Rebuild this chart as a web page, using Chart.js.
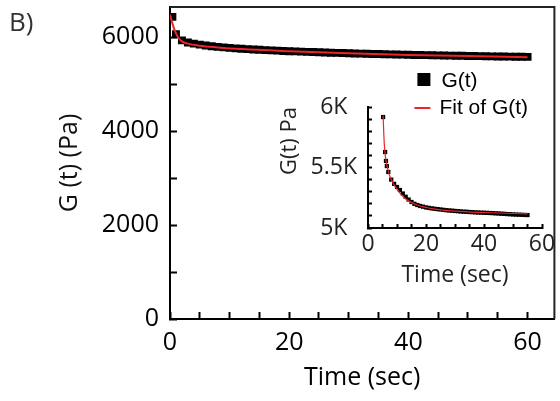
<!DOCTYPE html>
<html>
<head>
<meta charset="utf-8">
<script src="https://cdn.jsdelivr.net/npm/chart.js@4"></script>
<style>
  html, body { margin: 0; padding: 0; background: #fff; }
  #wrap { position: relative; width: 560px; height: 401px; }
  #mainChart { position: absolute; left: 0; top: 0; }
  #insetChart { position: absolute; left: 270px; top: 90px; }
  #panel { position: absolute; left: 9px; top: 8px; font: 26px "Open Sans"; line-height: 1; color: #333; }
</style>
</head>
<body>
<div id="wrap">
  <canvas id="mainChart" width="560" height="401"></canvas>
  <canvas id="insetChart" width="290" height="200"></canvas>
  <div id="panel">B)</div>
</div>
<script>
// main panel: relaxation modulus G(t) vs time
const mainTimes = [0.4, 1, 2, 3, 4, 5, 6, 7, 8, 9, 10, 11, 12, 13, 14, 15, 16, 17, 18, 19, 20,
  21, 22, 23, 24, 25, 26, 27, 28, 29, 30, 31, 32, 33, 34, 35, 36, 37, 38, 39, 40,
  41, 42, 43, 44, 45, 46, 47, 48, 49, 50, 51, 52, 53, 54, 55, 56, 57, 58, 59, 60];
const mainG = [6430, 6060, 5930, 5885, 5860, 5840, 5822, 5806, 5792, 5780, 5770, 5760, 5752, 5744, 5737, 5730, 5723, 5717, 5711, 5705, 5700,
  5695, 5690, 5685, 5681, 5677, 5672, 5668, 5664, 5660, 5656, 5652, 5648, 5645, 5641, 5638, 5635, 5632, 5629, 5626, 5623,
  5620, 5618, 5615, 5613, 5610, 5608, 5605, 5603, 5601, 5598, 5596, 5594, 5592, 5590, 5588, 5586, 5584, 5582, 5580, 5578];
const mainFitTimes = [0, 0.5, 1, 1.5, 2, 3, 5, 8, 12, 20, 30, 40, 50, 60];
const mainFitG = [6480, 6250, 6080, 5970, 5910, 5860, 5815, 5780, 5745, 5700, 5655, 5620, 5595, 5572];

// inset: zoomed view
const insetTimes = [5.2, 5.9, 6.2, 6.5, 7, 8, 9, 10, 11, 12, 13, 14, 15, 16, 17, 18, 19, 20,
  21, 22, 23, 24, 25, 26, 27, 28, 29, 30, 31, 32, 33, 34, 35, 36, 37, 38, 39, 40,
  41, 42, 43, 44, 45, 46, 47, 48, 49, 50, 51, 52, 53, 54, 55];
const insetG = [5917, 5628, 5554, 5512, 5463, 5400, 5365, 5339, 5314, 5285, 5258, 5235, 5215, 5200, 5190, 5182, 5176, 5170,
  5166, 5162, 5159, 5156, 5153, 5150, 5147, 5145, 5143, 5141, 5139, 5137, 5135, 5134, 5132, 5131, 5129, 5128, 5127, 5126,
  5125, 5124, 5123, 5121, 5120, 5118, 5117, 5115, 5114, 5112, 5111, 5110, 5109, 5108, 5107];
const insetFitTimes = [5.2, 5.6, 6, 7, 8, 10, 13, 17, 22, 30, 40, 50, 55];
const insetFitG = [5930, 5700, 5590, 5470, 5400, 5320, 5240, 5190, 5160, 5140, 5128, 5120, 5117];

const seriesLabels = ["Fit of G(t)", "G(t)"];
// tick marks and which of them carry a label
const xTickMarks = [0, 5, 10, 15, 20, 25, 30, 35, 40, 45, 50, 55, 60];
const xTickLabels = [0, 20, 40, 60];
const yTickMarks = [0, 1000, 2000, 3000, 4000, 5000, 6000];
const yTickLabels = [0, 2000, 4000, 6000];
const insetYTickMarks = [5000, 5100, 5200, 5300, 5400, 5500, 5600, 5700, 5800, 5900, 6000];
const insetYLabels = { 5000: "5K", 5500: "5.5K", 6000: "6K" };

const toPoints = (xs, ys) => xs.map((x, i) => ({ x: x, y: ys[i] }));
const setTicks = (list) => (s) => { s.ticks = list.map((v) => ({ value: v })); };
const noPad = (s) => { s.paddingTop = 0; s.paddingBottom = 0; s.paddingLeft = 0; s.paddingRight = 0; };
const RED = "#e8262b";

// top and right frame lines
const framePlugin = {
  id: "frame",
  afterDraw(chart) {
    const { ctx, chartArea: a } = chart;
    ctx.save();
    ctx.strokeStyle = "#222";
    ctx.lineWidth = 2;
    ctx.beginPath();
    ctx.moveTo(a.left, a.top);
    ctx.lineTo(a.right, a.top);
    ctx.lineTo(a.right, a.bottom);
    ctx.stroke();
    ctx.restore();
  },
};

// legend in the upper right corner of the plot
const legendPlugin = {
  id: "cornerLegend",
  afterDraw(chart) {
    const { ctx, chartArea: a } = chart;
    const ds = chart.data.datasets;
    ctx.save();
    ctx.font = '21px "Liberation Sans", Arial';
    ctx.textBaseline = "middle";
    ctx.fillStyle = "#000";
    ctx.fillRect(a.right - 137, a.top + 66, 13, 13);
    ctx.fillText(ds[1].label, a.right - 113, a.top + 74);
    ctx.strokeStyle = RED;
    ctx.lineWidth = 2;
    ctx.beginPath();
    ctx.moveTo(a.right - 140, a.top + 101);
    ctx.lineTo(a.right - 124, a.top + 101);
    ctx.stroke();
    ctx.fillStyle = "#000";
    ctx.fillText(ds[0].label, a.right - 115, a.top + 101);
    ctx.restore();
  },
};

new Chart(document.getElementById("mainChart"), {
  type: "scatter",
  data: {
    datasets: [
      {
        label: seriesLabels[0],
        data: toPoints(mainFitTimes, mainFitG),
        showLine: true,
        borderColor: RED,
        borderWidth: 2,
        pointRadius: 0,
        cubicInterpolationMode: "monotone",
      },
      {
        label: seriesLabels[1],
        data: toPoints(mainTimes, mainG),
        pointStyle: "rect",
        pointRadius: 5.6,
        backgroundColor: "#000",
        borderColor: "#000",
        borderWidth: 0,
      },
    ],
  },
  options: {
    responsive: false,
    animation: false,
    layout: { padding: { top: 7, right: 3, left: 0, bottom: 0 } },
    plugins: { legend: { display: false }, tooltip: { enabled: false } },
    scales: {
      x: {
        type: "linear",
        min: 0,
        max: 64.5,
        afterBuildTicks: setTicks(xTickMarks),
        afterFit: (s) => { s.height = 82; noPad(s); },
        border: { display: true, width: 2, color: "#000" },
        grid: { drawOnChartArea: false, drawTicks: true, tickLength: -7, tickWidth: 2, tickColor: "#000" },
        ticks: {
          autoSkip: false,
          maxRotation: 0,
          padding: 16,
          color: "#000",
          font: { family: "Open Sans", size: 25 },
          callback: (v) => (xTickLabels.includes(v) ? String(v) : ""),
        },
        title: {
          display: true,
          text: "Time (sec)",
          color: "#000",
          font: { family: "Open Sans", size: 25 },
          padding: { top: 0, bottom: 8 },
        },
      },
      y: {
        min: 0,
        max: 6640,
        afterBuildTicks: setTicks(yTickMarks),
        afterFit: (s) => { s.width = 170; noPad(s); },
        border: { display: true, width: 2, color: "#000" },
        grid: { drawOnChartArea: false, drawTicks: true, tickLength: -7, tickWidth: 2, tickColor: "#000" },
        ticks: {
          autoSkip: false,
          padding: 18,
          color: "#000",
          font: { family: "Open Sans", size: 25 },
          callback: (v) => (yTickLabels.includes(v) ? String(v) : ""),
        },
        title: {
          display: true,
          text: "G (t) (Pa)",
          color: "#111",
          font: { family: "Open Sans", size: 25 },
          padding: { top: 55, bottom: 0 },
        },
      },
    },
  },
  plugins: [framePlugin, legendPlugin],
});

new Chart(document.getElementById("insetChart"), {
  type: "scatter",
  data: {
    datasets: [
      {
        label: seriesLabels[0],
        data: toPoints(insetFitTimes, insetFitG),
        showLine: true,
        borderColor: RED,
        borderWidth: 1.2,
        pointRadius: 0,
        cubicInterpolationMode: "monotone",
      },
      {
        label: seriesLabels[1],
        data: toPoints(insetTimes, insetG),
        pointStyle: "rect",
        pointRadius: 3,
        backgroundColor: "#000",
        borderColor: "#000",
        borderWidth: 0,
      },
    ],
  },
  options: {
    responsive: false,
    animation: false,
    layout: { padding: { top: 17, right: 18, left: 0, bottom: 0 } },
    plugins: { legend: { display: false }, tooltip: { enabled: false } },
    scales: {
      x: {
        type: "linear",
        min: 0,
        max: 60,
        afterBuildTicks: setTicks(xTickMarks),
        afterFit: (s) => { s.height = 62; noPad(s); },
        border: { display: true, width: 2, color: "#000" },
        grid: { drawOnChartArea: false, drawTicks: true, tickLength: -4, tickWidth: 2, tickColor: "#000" },
        ticks: {
          autoSkip: false,
          maxRotation: 0,
          padding: 7,
          color: "#222",
          font: { family: "Open Sans", size: 23 },
          callback: (v) => (xTickLabels.includes(v) ? String(v) : ""),
        },
        title: {
          display: true,
          text: "Time (sec)",
          color: "#222",
          font: { family: "Open Sans", size: 23 },
          padding: { top: 0, bottom: 1 },
        },
      },
      y: {
        min: 5000,
        max: 6000,
        afterBuildTicks: setTicks(insetYTickMarks),
        afterFit: (s) => { s.width = 98; noPad(s); },
        border: { display: true, width: 2, color: "#000" },
        grid: { drawOnChartArea: false, drawTicks: true, tickLength: -4, tickWidth: 2, tickColor: "#000" },
        ticks: {
          autoSkip: false,
          padding: 15,
          crossAlign: "center",
          color: "#222",
          font: { family: "Open Sans", size: 23 },
          callback: (v) => insetYLabels[v] || "",
        },
        title: {
          display: true,
          text: "G(t) Pa",
          align: "end",
          color: "#222",
          font: { family: "Open Sans", size: 22 },
          padding: { top: 7, bottom: 0 },
        },
      },
    },
  },
});
</script>
</body>
</html>
